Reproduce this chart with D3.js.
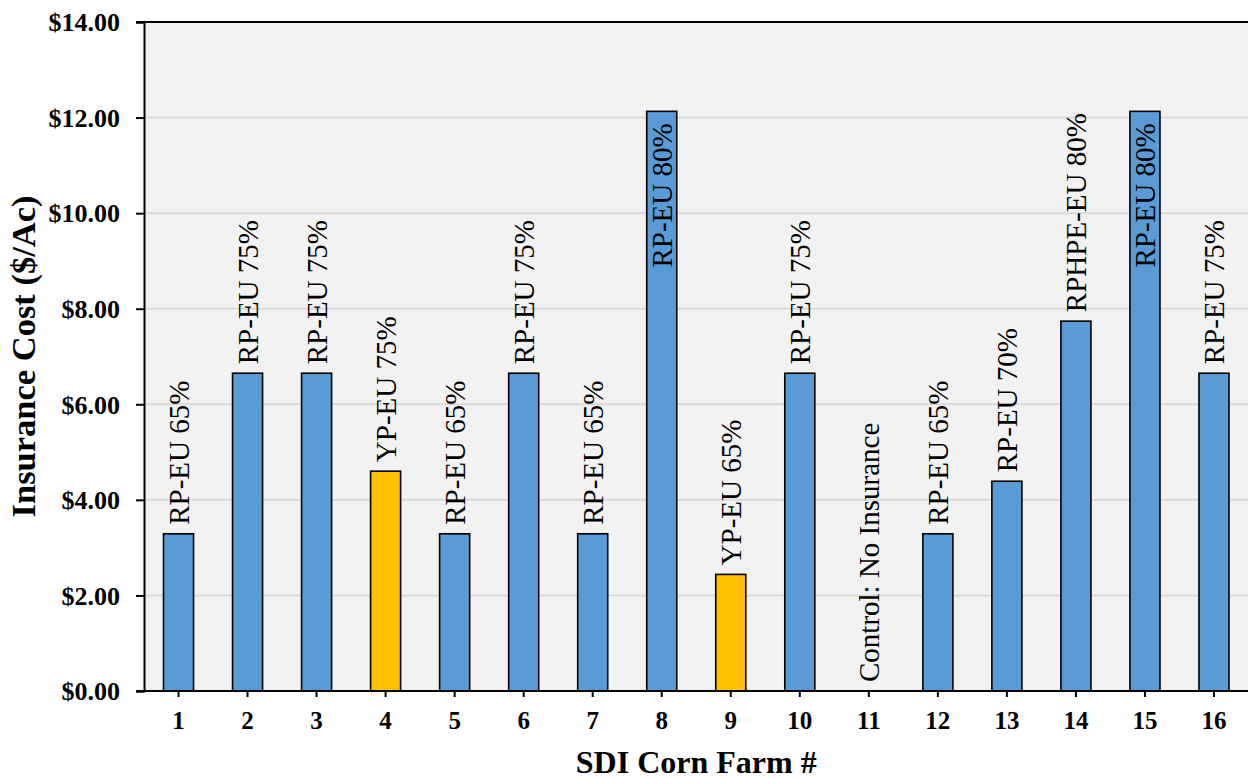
<!DOCTYPE html>
<html>
<head>
<meta charset="utf-8">
<script src="https://cdn.jsdelivr.net/npm/d3@7"></script>
<style>
  html, body { margin: 0; padding: 0; background: #ffffff; }
  svg { display: block; }
</style>
</head>
<body>
<svg id="chart" width="1248" height="779"></svg>
<script>
// Farm numbers along the x axis
const farms = ["1","2","3","4","5","6","7","8","9","10","11","12","13","14","15","16"];
// Insurance cost per acre for each farm ($/Ac)
const costs = [3.29, 6.65, 6.65, 4.60, 3.29, 6.65, 3.29, 12.13, 2.44, 6.65, 0, 3.29, 4.39, 7.74, 12.13, 6.65];
// Policy type / coverage level shown on each bar
const policies = ["RP-EU 65%","RP-EU 75%","RP-EU 75%","YP-EU 75%","RP-EU 65%","RP-EU 75%","RP-EU 65%","RP-EU 80%",
                  "YP-EU 65%","RP-EU 75%","Control: No Insurance","RP-EU 65%","RP-EU 70%","RPHPE-EU 80%","RP-EU 80%","RP-EU 75%"];
// Plan family (RP = revenue protection, YP = yield protection)
const plans = ["RP","RP","RP","YP","RP","RP","RP","RP","YP","RP","None","RP","RP","RP","RP","RP"];
const yTicks = [0, 2, 4, 6, 8, 10, 12, 14];

const planColor = { RP: "#5b9bd5", YP: "#ffc000", None: "#5b9bd5" };
const serif = "'Liberation Serif', 'Times New Roman', Times, serif";

const svg = d3.select("#chart");
const plot = { left: 144, right: 1248.5, top: 22, bottom: 691 };

const x = d3.scaleBand()
  .domain(farms)
  .range([plot.left, plot.right])
  .paddingInner(0.565)
  .paddingOuter(0.2825);

const y = d3.scaleLinear()
  .domain([0, 14])
  .range([plot.bottom, plot.top]);

// Plot background
svg.append("rect")
  .attr("x", plot.left).attr("y", plot.top)
  .attr("width", plot.right - plot.left).attr("height", plot.bottom - plot.top)
  .attr("fill", "#f2f2f2");

// Horizontal gridlines
svg.append("g")
  .selectAll("line")
  .data(yTicks.filter(d => d > 0 && d < 14))
  .join("line")
  .attr("x1", plot.left).attr("x2", plot.right)
  .attr("y1", d => y(d)).attr("y2", d => y(d))
  .attr("stroke", "#d9d9d9").attr("stroke-width", 2);

// Top border of the plot area
svg.append("line")
  .attr("x1", plot.left - 8).attr("x2", plot.right)
  .attr("y1", y(14)).attr("y2", y(14))
  .attr("stroke", "#000").attr("stroke-width", 2);

// Bars
svg.append("g")
  .selectAll("rect")
  .data(farms)
  .join("rect")
  .attr("x", d => x(d))
  .attr("width", x.bandwidth())
  .attr("y", (d, i) => y(costs[i]))
  .attr("height", (d, i) => y(0) - y(costs[i]))
  .attr("fill", (d, i) => planColor[plans[i]])
  .attr("stroke", (d, i) => costs[i] > 0 ? "#000" : "none")
  .attr("stroke-width", 1.6);

// Y axis
const yAxis = svg.append("g")
  .attr("transform", `translate(${plot.left},0)`)
  .call(d3.axisLeft(y).tickValues(yTicks).tickSize(8).tickPadding(16).tickFormat(d => "$" + d3.format(".2f")(d)));
yAxis.select(".domain").attr("stroke", "#000").attr("stroke-width", 2);
yAxis.selectAll(".tick line").attr("stroke", "#000").attr("stroke-width", 2);
yAxis.selectAll(".tick text")
  .attr("font-family", serif).attr("font-size", 26).attr("font-weight", "bold").attr("fill", "#000")
  .attr("dy", "0.34em");

// X axis
const xAxis = svg.append("g")
  .attr("transform", `translate(0,${plot.bottom})`)
  .call(d3.axisBottom(x).tickSize(6).tickPadding(14));
xAxis.select(".domain").attr("stroke", "#000").attr("stroke-width", 2)
  .attr("d", `M${plot.left - 8},0H${plot.right}`);
xAxis.selectAll(".tick line").attr("stroke", "#000").attr("stroke-width", 2);
xAxis.selectAll(".tick text")
  .attr("font-family", serif).attr("font-size", 25).attr("font-weight", "bold").attr("fill", "#000");

// Policy labels, rotated, above each bar (inside the bar when it would run past the top)
const labelGap = 9;
const labels = svg.append("g")
  .selectAll("text")
  .data(farms)
  .join("text")
  .style("font-family", serif)
  .attr("font-size", 29)
  .attr("fill", "#000")
  .text((d, i) => policies[i]);

labels.each(function(d, i) {
  const t = d3.select(this);
  const len = this.getComputedTextLength();
  const cx = x(d) + x.bandwidth() / 2;
  const barTop = y(costs[i]);
  const inside = barTop - labelGap - len < plot.top;
  if (inside) {
    t.attr("text-anchor", "end")
     .attr("transform", `translate(${cx},${barTop + 12}) rotate(-90)`);
  } else {
    t.attr("text-anchor", "start")
     .attr("transform", `translate(${cx},${barTop - labelGap}) rotate(-90)`);
  }
  t.attr("dy", "0.35em");
});

// Axis titles
svg.append("text")
  .attr("transform", `translate(35,${(plot.top + plot.bottom) / 2}) rotate(-90)`)
  .attr("text-anchor", "middle")
  .attr("font-family", serif).attr("font-size", 34.5).attr("font-weight", "bold").attr("fill", "#000")
  .text("Insurance Cost ($/Ac)");

svg.append("text")
  .attr("x", (plot.left + plot.right) / 2)
  .attr("y", 773)
  .attr("text-anchor", "middle")
  .attr("font-family", serif).attr("font-size", 32).attr("font-weight", "bold").attr("fill", "#000")
  .text("SDI Corn Farm #");
</script>
</body>
</html>
